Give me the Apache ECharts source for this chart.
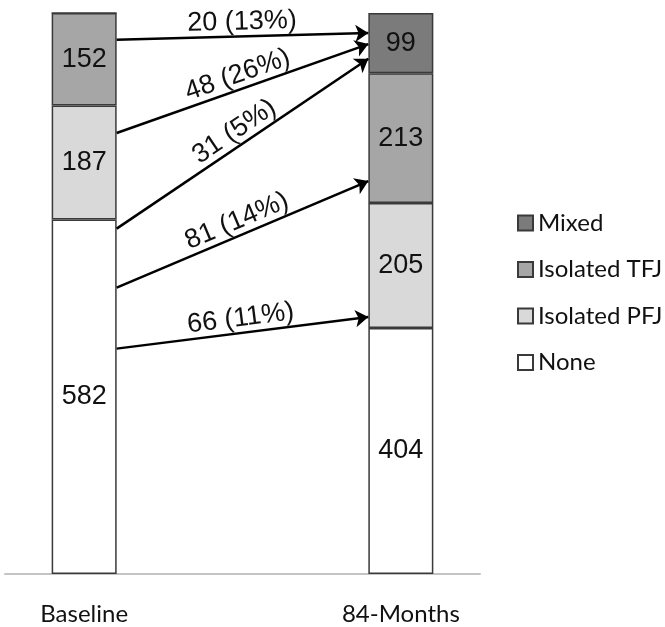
<!DOCTYPE html>
<html>
<head>
<meta charset="utf-8">
<script src="https://cdn.jsdelivr.net/npm/echarts@6/dist/echarts.min.js"></script>
<style>
  html, body { margin: 0; padding: 0; background: #ffffff; }
  #chart { width: 665px; height: 627px; }
</style>
</head>
<body>
<div id="chart"></div>
<script>
// ---- data ----
const categories = ['Baseline', '84-Months'];
const categoryPos = [0, 1];
const noneVals = [582, 404];
const pfjVals = [187, 205];
const tfjVals = [152, 213];
const mixedVals = [0, 99];
const legendOrder = ['Mixed', 'Isolated TFJ', 'Isolated PFJ', 'None'];

// transitions between baseline and 84 months
const flowCounts = [20, 48, 31, 81, 66];
const flowPcts = [13, 26, 5, 14, 11];
const flowStartY = [877, 724, 567, 470, 370];   // arrow start heights (count units)
const flowEndY = [888, 870, 846, 645, 422];     // arrow end heights (count units)
const yMax = 921;

// ---- layout ----
const gridLeft = 5, gridWidth = 475;
const xMin = -0.25, xMax = 1.25;
const barWidth = 65;
const pxPerUnit = gridWidth / (xMax - xMin);
const halfBar = (barWidth / 2) / pxPerUnit;

const borderColor = '#3a3a3a';
const valueFont = 'Liberation Sans, Arial, sans-serif';
const textFont = 'Lato, "Open Sans", sans-serif';

function barSeries(name, vals, color) {
  return {
    name: name,
    type: 'bar',
    stack: 'total',
    barWidth: barWidth,
    encode: { x: 1, y: 0 },
    data: vals.map((v, i) => [v, categoryPos[i]]),
    itemStyle: { color: color, borderColor: borderColor, borderWidth: 1.5 },
    label: {
      show: true,
      position: 'inside',
      fontFamily: valueFont,
      fontSize: 27,
      color: '#111',
      formatter: p => (p.value[0] > 0 ? String(p.value[0]) : '')
    },
    emphasis: { disabled: true }
  };
}

const flowData = flowCounts.map((c, i) => ({
  name: c + ' (' + flowPcts[i] + '%)',
  coords: [[categoryPos[0] + halfBar, flowStartY[i]], [categoryPos[1] - halfBar, flowEndY[i]]]
}));

const chart = echarts.init(document.getElementById('chart'), null, { renderer: 'canvas' });
chart.setOption({
  backgroundColor: '#ffffff',
  animation: false,
  grid: { left: gridLeft, width: gridWidth, top: 13, height: 561, containLabel: false },
  xAxis: {
    type: 'value',
    min: xMin,
    max: xMax,
    splitLine: { show: false },
    axisTick: { show: false },
    axisLine: { show: true, lineStyle: { color: '#c4c4c4', width: 2 } },
    axisLabel: {
      customValues: categoryPos,
      formatter: v => categories[Math.round(v)],
      fontFamily: textFont,
      fontSize: 24,
      color: '#111',
      margin: 28
    }
  },
  yAxis: { type: 'value', min: 0, max: yMax, show: false },
  legend: {
    data: legendOrder,
    orient: 'vertical',
    left: 512,
    top: 206,
    itemWidth: 15,
    itemHeight: 15,
    itemGap: 22.5,
    icon: 'rect',
    textStyle: { fontFamily: textFont, fontSize: 24, color: '#111' },
    selectedMode: false
  },
  series: [
    barSeries('None', noneVals, '#ffffff'),
    barSeries('Isolated PFJ', pfjVals, '#d9d9d9'),
    barSeries('Isolated TFJ', tfjVals, '#a6a6a6'),
    barSeries('Mixed', mixedVals, '#7b7b7b'),
    {
      type: 'lines',
      coordinateSystem: 'cartesian2d',
      clip: false,
      symbol: ['none', 'arrow'],
      symbolSize: [11, 13],
      lineStyle: { color: '#000', width: 2.5, opacity: 1, curveness: 0 },
      label: {
        show: true,
        position: 'insideMiddleTop',
        distance: 1,
        fontFamily: valueFont,
        fontSize: 27,
        color: '#111',
        formatter: p => p.name
      },
      data: flowData,
      silent: true,
      z: 5
    }
  ]
});
</script>
</body>
</html>
